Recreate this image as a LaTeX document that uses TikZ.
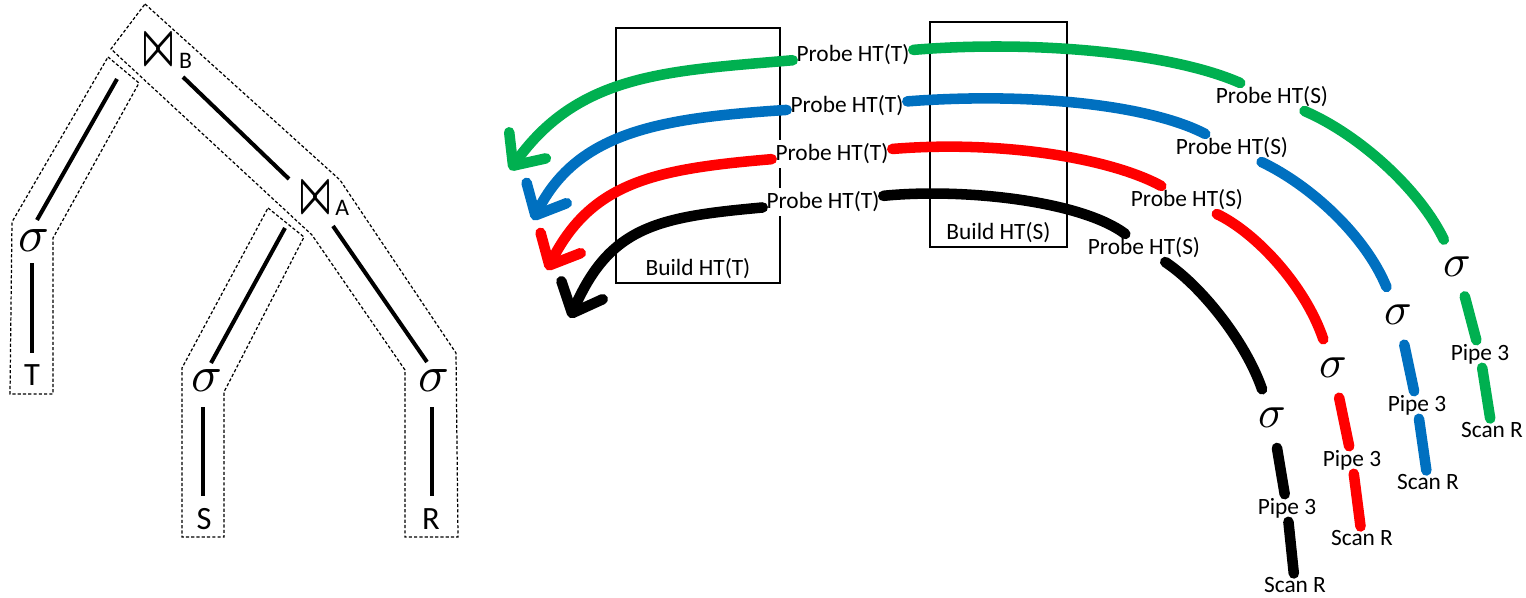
\documentclass[tikz,border=0pt]{standalone}
\usepackage{amssymb}
\usepackage{fontspec}
\setmainfont{Carlito}
\usepackage{tikz}
\usetikzlibrary{arrows.meta,backgrounds,positioning}
\definecolor{pgreen}{HTML}{00B050}
\definecolor{pblue}{HTML}{0070C0}
\definecolor{pred}{HTML}{FF0000}
\newcommand{\joinop}[1]{\resizebox{0.6cm}{0.58cm}{\boldmath$\bowtie$}\hspace{3pt}\raisebox{-2pt}{\fontsize{13.5}{14}\selectfont #1}}
\newcommand{\selop}[1]{\scalebox{#1}{$\sigma$}}

\tikzset{
  lbl/.style={font=\fontsize{13.3}{15}\selectfont, inner sep=2pt},
  probe/.style={lbl, fill=white},
  sig/.style={circle, inner sep=0pt, minimum size=1.2cm},
  flow/.style={line width=6pt, line cap=round},
  flowarrow/.style={flow, -{Straight Barb[round,length=0.5cm,width=0.9cm]}},
  htbox/.style={draw, line width=1.1pt, inner sep=0pt},
  treenode/.style={inner sep=0pt, font=\fontsize{18.5}{20}\selectfont},
  treesig/.style={inner sep=0pt},
  treeline/.style={line width=2.3pt},
  pipezone/.style={line width=0.7pt, dash pattern=on 1.8pt off 1.2pt}
}

\begin{document}
\begin{tikzpicture}[x=0.02cm, y=-0.02cm]
  \useasboundingbox (0,0) rectangle (1526,598);

  % plan
  \path (168,52) node[inner sep=0pt] (jB) {\joinop{B}}
        (324.5,199.5) node[inner sep=0pt] (jA) {\joinop{A}}
        (34,241) node[treesig] (sT) {\selop{2.9}}
        (207,381) node[treesig] (sS) {\selop{2.9}}
        (434,381) node[treesig] (sR) {\selop{2.9}}
        (32,375) node[treenode] (T) {T}
        (204,519) node[treenode] (S) {S}
        (431,519) node[treenode] (R) {R};
  \draw[treeline] ([shift={(-51,27)}]jB.center) -- ([shift={(3,-21)}]sT.center);
  \draw[treeline] ([shift={(15,25)}]jB.center) -- ([shift={(-35.5,-20.5)}]jA.center);
  \draw[treeline] ([shift={(-39.5,28.5)}]jA.center) -- ([shift={(4,-18)}]sS.center);
  \draw[treeline] ([shift={(8.5,26.5)}]jA.center) -- ([shift={(-7,-19)}]sR.center);
  \draw[treeline] ([shift={(-2,22)}]sT.center) -- ([shift={(0,-22)}]T.center);
  \draw[treeline] ([shift={(-4,26)}]sS.center) -- ([shift={(-1,-23)}]S.center);
  \draw[treeline] ([shift={(-2,26)}]sR.center) -- ([shift={(1,-23)}]R.center);
  % pipelines
  \draw[pipezone] (145,4) -- (340,180) -- (456,353) -- (458,537) -- (405,537) -- (405,370) -- (312,235) -- (111,49) -- cycle;
  \draw[pipezone] (108,57) -- (139,83) -- (53,238) -- (53,394) -- (10,394) -- (12,222) -- cycle;
  \draw[pipezone] (268,208) -- (304,237) -- (224,392) -- (224,537) -- (182,537) -- (182,368) -- cycle;

  % hash tables
  \node[htbox, minimum width=3.28cm, minimum height=5.1cm] (bT) at (698,155.5) {};
  \node[htbox, minimum width=2.74cm, minimum height=4.5cm] (bS) at (998.5,134.5) {};
  \node[lbl, above=0.5pt of bT.south] {Build HT(T)};
  \node[lbl, above=0.5pt of bS.south] {Build HT(S)};

  % pipe 3 runs
  \path (853,55) node[probe] (pTG) {Probe HT(T)}
        (1272,97) node[probe] (pSG) {Probe HT(S)}
        (1457,267) node[sig] (sgG) {\selop{2.6}}
        (1480,354) node[lbl] (ppG) {Pipe 3}
        (1492,430) node[lbl] (scG) {Scan R};
  \path (847,106) node[probe] (pTB) {Probe HT(T)}
        (1232,148) node[probe] (pSB) {Probe HT(S)}
        (1398,315) node[sig] (sgB) {\selop{2.6}}
        (1417,405) node[lbl] (ppB) {Pipe 3}
        (1428,482) node[lbl] (scB) {Scan R};
  \path (832,154) node[probe] (pTR) {Probe HT(T)}
        (1187,200) node[probe] (pSR) {Probe HT(S)}
        (1333,368) node[sig] (sgR) {\selop{2.6}}
        (1352,460) node[lbl] (ppR) {Pipe 3}
        (1362,538) node[lbl] (scR) {Scan R};
  \path (823,202) node[probe] (pTK) {Probe HT(T)}
        (1144,248) node[probe] (pSK) {Probe HT(S)}
        (1272,418) node[sig] (sgK) {\selop{2.6}}
        (1287,508) node[lbl] (ppK) {Pipe 3}
        (1295,585) node[lbl] (scK) {Scan R};
  \coordinate (tipG) at (510,170);
  \coordinate (tipB) at (533,220);
  \coordinate (tipR) at (547,270);
  \coordinate (tipK) at (570,318);

  \draw[flow, pgreen] (scG) -- (ppG);
  \draw[flow, pgreen] (ppG) -- (sgG);
  \draw[flow, pgreen] (sgG) .. controls (1420,190) and (1360,135) .. (pSG);
  \draw[flow, pgreen] (pSG) .. controls (1170,52) and (1030,40) .. (pTG);
  \draw[flowarrow, pgreen] (pTG) .. controls (669,71) and (579,73) .. (tipG);

  \draw[flow, pblue] (scB) -- (ppB);
  \draw[flow, pblue] (ppB) -- (sgB);
  \draw[flow, pblue] (sgB) .. controls (1365,235) and (1310,185) .. (pSB);
  \draw[flow, pblue] (pSB) .. controls (1150,105) and (1030,92) .. (pTB);
  \draw[flowarrow, pblue] (pTB) .. controls (662,118) and (578,131) .. (tipB);

  \draw[flow, pred] (scR) -- (ppR);
  \draw[flow, pred] (ppR) -- (sgR);
  \draw[flow, pred] (sgR) .. controls (1305,285) and (1255,232) .. (pSR);
  \draw[flow, pred] (pSR) .. controls (1110,158) and (1000,140) .. (pTR);
  \draw[flowarrow, pred] (pTR) .. controls (657,169) and (592,181) .. (tipR);

  \draw[flow, black] (scK) -- (ppK);
  \draw[flow, black] (ppK) -- (sgK);
  \draw[flow, black] (sgK) .. controls (1245,340) and (1200,285) .. (pSK);
  \draw[flow, black] (pSK) .. controls (1080,200) and (960,188) .. (pTK);
  \draw[flowarrow, black] (pTK) .. controls (658,217) and (610,226) .. (tipK);
\end{tikzpicture}
\end{document}
